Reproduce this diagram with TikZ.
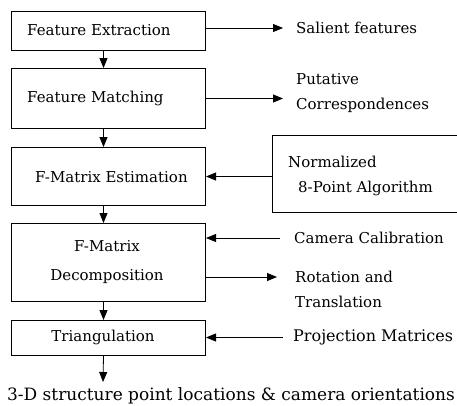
\documentclass[tikz,border=0pt]{standalone}
\usepackage{fontspec}
\setmainfont{DejaVu Serif}
\usetikzlibrary{arrows.meta,calc}
\begin{document}
\begin{tikzpicture}[x=1pt,y=-1pt,
  box/.style={draw, line width=1pt, inner sep=0pt, anchor=north west},
  arr/.style={-{Triangle[length=10pt,width=8pt]}, line width=0.8pt},
  txt/.style={font=\fontsize{15}{25}\selectfont, inner sep=0pt},
  lbl/.style={txt, anchor=west, align=left}]
\useasboundingbox (0,0) rectangle (457,405);
% main boxes
\node[box, minimum width=194pt, minimum height=39pt] (b1) at (11,11) {};
\node[box, minimum width=194pt, minimum height=60pt] (b2) at (11,68) {};
\node[box, minimum width=194pt, minimum height=58pt] (b3) at (11,147) {};
\node[box, minimum width=194pt, minimum height=78pt] (b4) at (11,223) {};
\node[box, minimum width=194pt, minimum height=35pt] (b5) at (11,320) {};
% box texts
\node[txt, anchor=west] (t1) at (27,30) {Feature Extraction};
\node[txt, anchor=west] (t2) at (27,98) {Feature Matching};
\node[txt, anchor=west] (t3) at (35,177) {F-Matrix Estimation};
\node[txt, align=center, font=\fontsize{15}{29}\selectfont] (t4) at (107,262.5) {F-Matrix\\Decomposition};
\node[txt] (t5) at (103,337.5) {Triangulation};
% right side
\node[lbl] (s1) at (296,28) {Salient features};
\node[lbl] (s2) at (296,93.5) {Putative\\Correspondences};
\node[box, minimum width=190pt, minimum height=77pt] (nb) at (272,135) {};
\node[lbl] (s3) at (288,176) {Normalized\\\hspace{10pt}8-Point Algorithm};
\node[lbl] (s4) at (294,238) {Camera Calibration};
\node[lbl] (s5) at (295,289.5) {Rotation and\\Translation};
\node[lbl, font=\fontsize{16}{25}\selectfont] (s6) at (293,337.5) {Projection Matrices};
\node[txt, font=\fontsize{17}{25}\selectfont] (s7) at (231,396) {3-D structure point locations \& camera orientations};
\coordinate (end) at (103,382);
% vertical arrows
\draw[arr] ([xshift=-5pt]b1.south) -- ([xshift=-5pt]b2.north);
\draw[arr] ([xshift=-5pt]b2.south) -- ([xshift=-5pt]b3.north);
\draw[arr] ([xshift=-5pt]b3.south) -- ([xshift=-5pt]b4.north);
\draw[arr] ([xshift=-5pt]b4.south) -- ([xshift=-5pt]b5.north);
\draw[arr] ([xshift=-5pt]b5.south) -- (end);
% horizontal arrows
\draw[arr, shorten >=13pt] (b1.east |- s1.west) -- (s1.west);
\draw[arr, shorten >=13pt] (b2.east) -- (b2.east -| s2.west);
\draw[arr] (nb.west |- b3.east) -- (b3.east);
\draw[arr, shorten <=14pt] (s4.west) -- (s4.west -| b4.east);
\draw[arr, shorten >=18pt] ($(b4.east |- s5.west)+(0,-12.5)$) -- ($(s5.west)+(0,-12.5)$);
\draw[arr, shorten <=10pt] (s6.west) -- (s6.west -| b5.east);
\end{tikzpicture}
\end{document}
